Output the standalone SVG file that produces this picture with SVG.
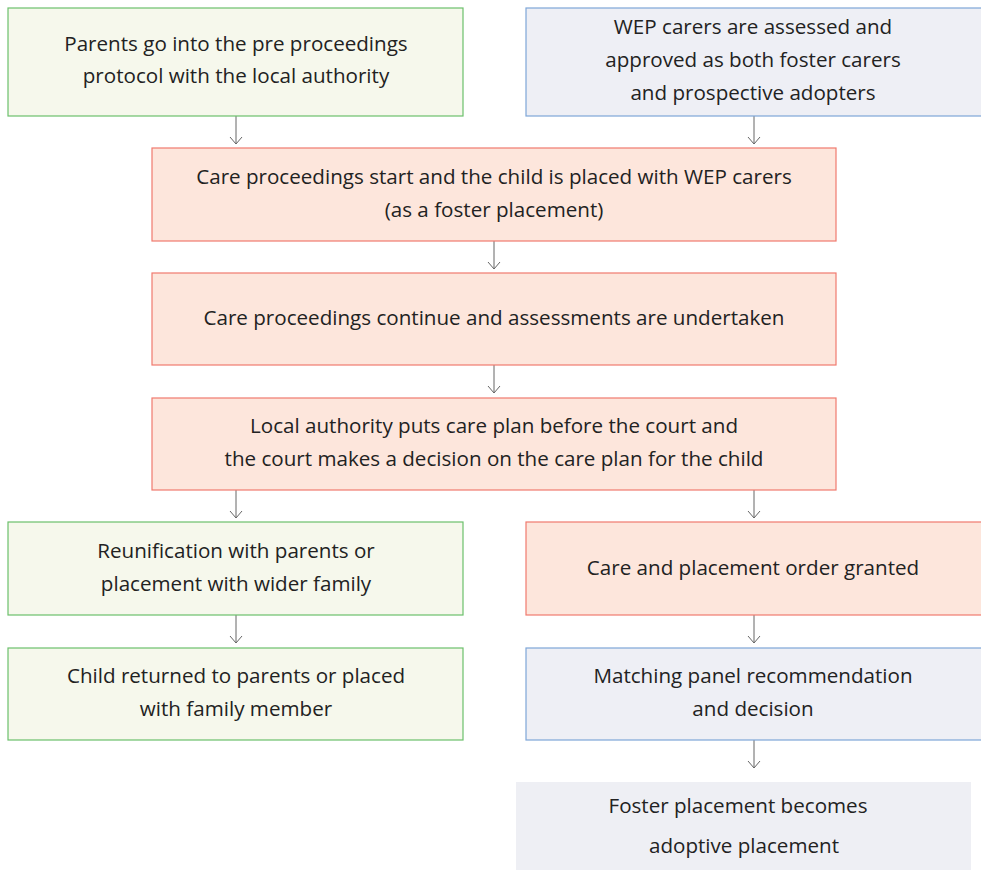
<svg xmlns="http://www.w3.org/2000/svg" width="981" height="870" viewBox="0 0 981 870">
<style>
.g{fill:#f6f8ec;stroke:#6cc06c;stroke-width:1.2}
.b{fill:#eeeff5;stroke:#7ea6d8;stroke-width:1.2}
.r{fill:#fde6dc;stroke:#f07a6e;stroke-width:1.2}
.n{fill:#eeeff4;stroke:none}
text{font-family:"Open Sans","Liberation Sans",sans-serif;font-size:20.6px;fill:#222;text-anchor:middle}
.c{stroke:#666;stroke-width:1;fill:none}
</style>
<rect width="981" height="870" fill="#fff"/>
<g id="connectors">
<path class="c" d="M236 116V144M230 137L236 144L242 137"/>
<path class="c" d="M754 116V144M748 137L754 144L760 137"/>
<path class="c" d="M494 241V269M488 262L494 269L500 262"/>
<path class="c" d="M494 365V393M488 386L494 393L500 386"/>
<path class="c" d="M236 490V518M230 511L236 518L242 511"/>
<path class="c" d="M754 490V518M748 511L754 518L760 511"/>
<path class="c" d="M236 615V643M230 636L236 643L242 636"/>
<path class="c" d="M754 615V643M748 636L754 643L760 636"/>
<path class="c" d="M754 740V768M748 761L754 768L760 761"/>
</g>
<g id="n1"><rect class="g" x="8" y="8" width="455" height="108"/><text x="236" y="51">Parents go into the pre proceedings</text><text x="236" y="83">protocol with the local authority</text></g>
<g id="n2"><rect class="b" x="526" y="8" width="460" height="108"/><text x="753" y="34">WEP carers are assessed and</text><text x="753" y="67">approved as both foster carers</text><text x="753" y="100">and prospective adopters</text></g>
<g id="n3"><rect class="r" x="152" y="148" width="684" height="93"/><text x="494" y="184">Care proceedings start and the child is placed with WEP carers</text><text x="494" y="217">(as a foster placement)</text></g>
<g id="n4"><rect class="r" x="152" y="273" width="684" height="92"/><text x="494" y="325">Care proceedings continue and assessments are undertaken</text></g>
<g id="n5"><rect class="r" x="152" y="398" width="684" height="92"/><text x="494" y="433">Local authority puts care plan before the court and</text><text x="494" y="466">the court makes a decision on the care plan for the child</text></g>
<g id="n6"><rect class="g" x="8" y="522" width="455" height="93"/><text x="236" y="558">Reunification with parents or</text><text x="236" y="591">placement with wider family</text></g>
<g id="n7"><rect class="r" x="526" y="522" width="460" height="93"/><text x="753" y="575">Care and placement order granted</text></g>
<g id="n8"><rect class="g" x="8" y="648" width="455" height="92"/><text x="236" y="683">Child returned to parents or placed</text><text x="236" y="716">with family member</text></g>
<g id="n9"><rect class="b" x="526" y="648" width="460" height="92"/><text x="753" y="683">Matching panel recommendation</text><text x="753" y="716">and decision</text></g>
<g id="n10"><rect class="n" x="516" y="782" width="455" height="88"/><text x="738" y="813">Foster placement becomes</text><text x="744" y="853">adoptive placement</text></g>
</svg>
